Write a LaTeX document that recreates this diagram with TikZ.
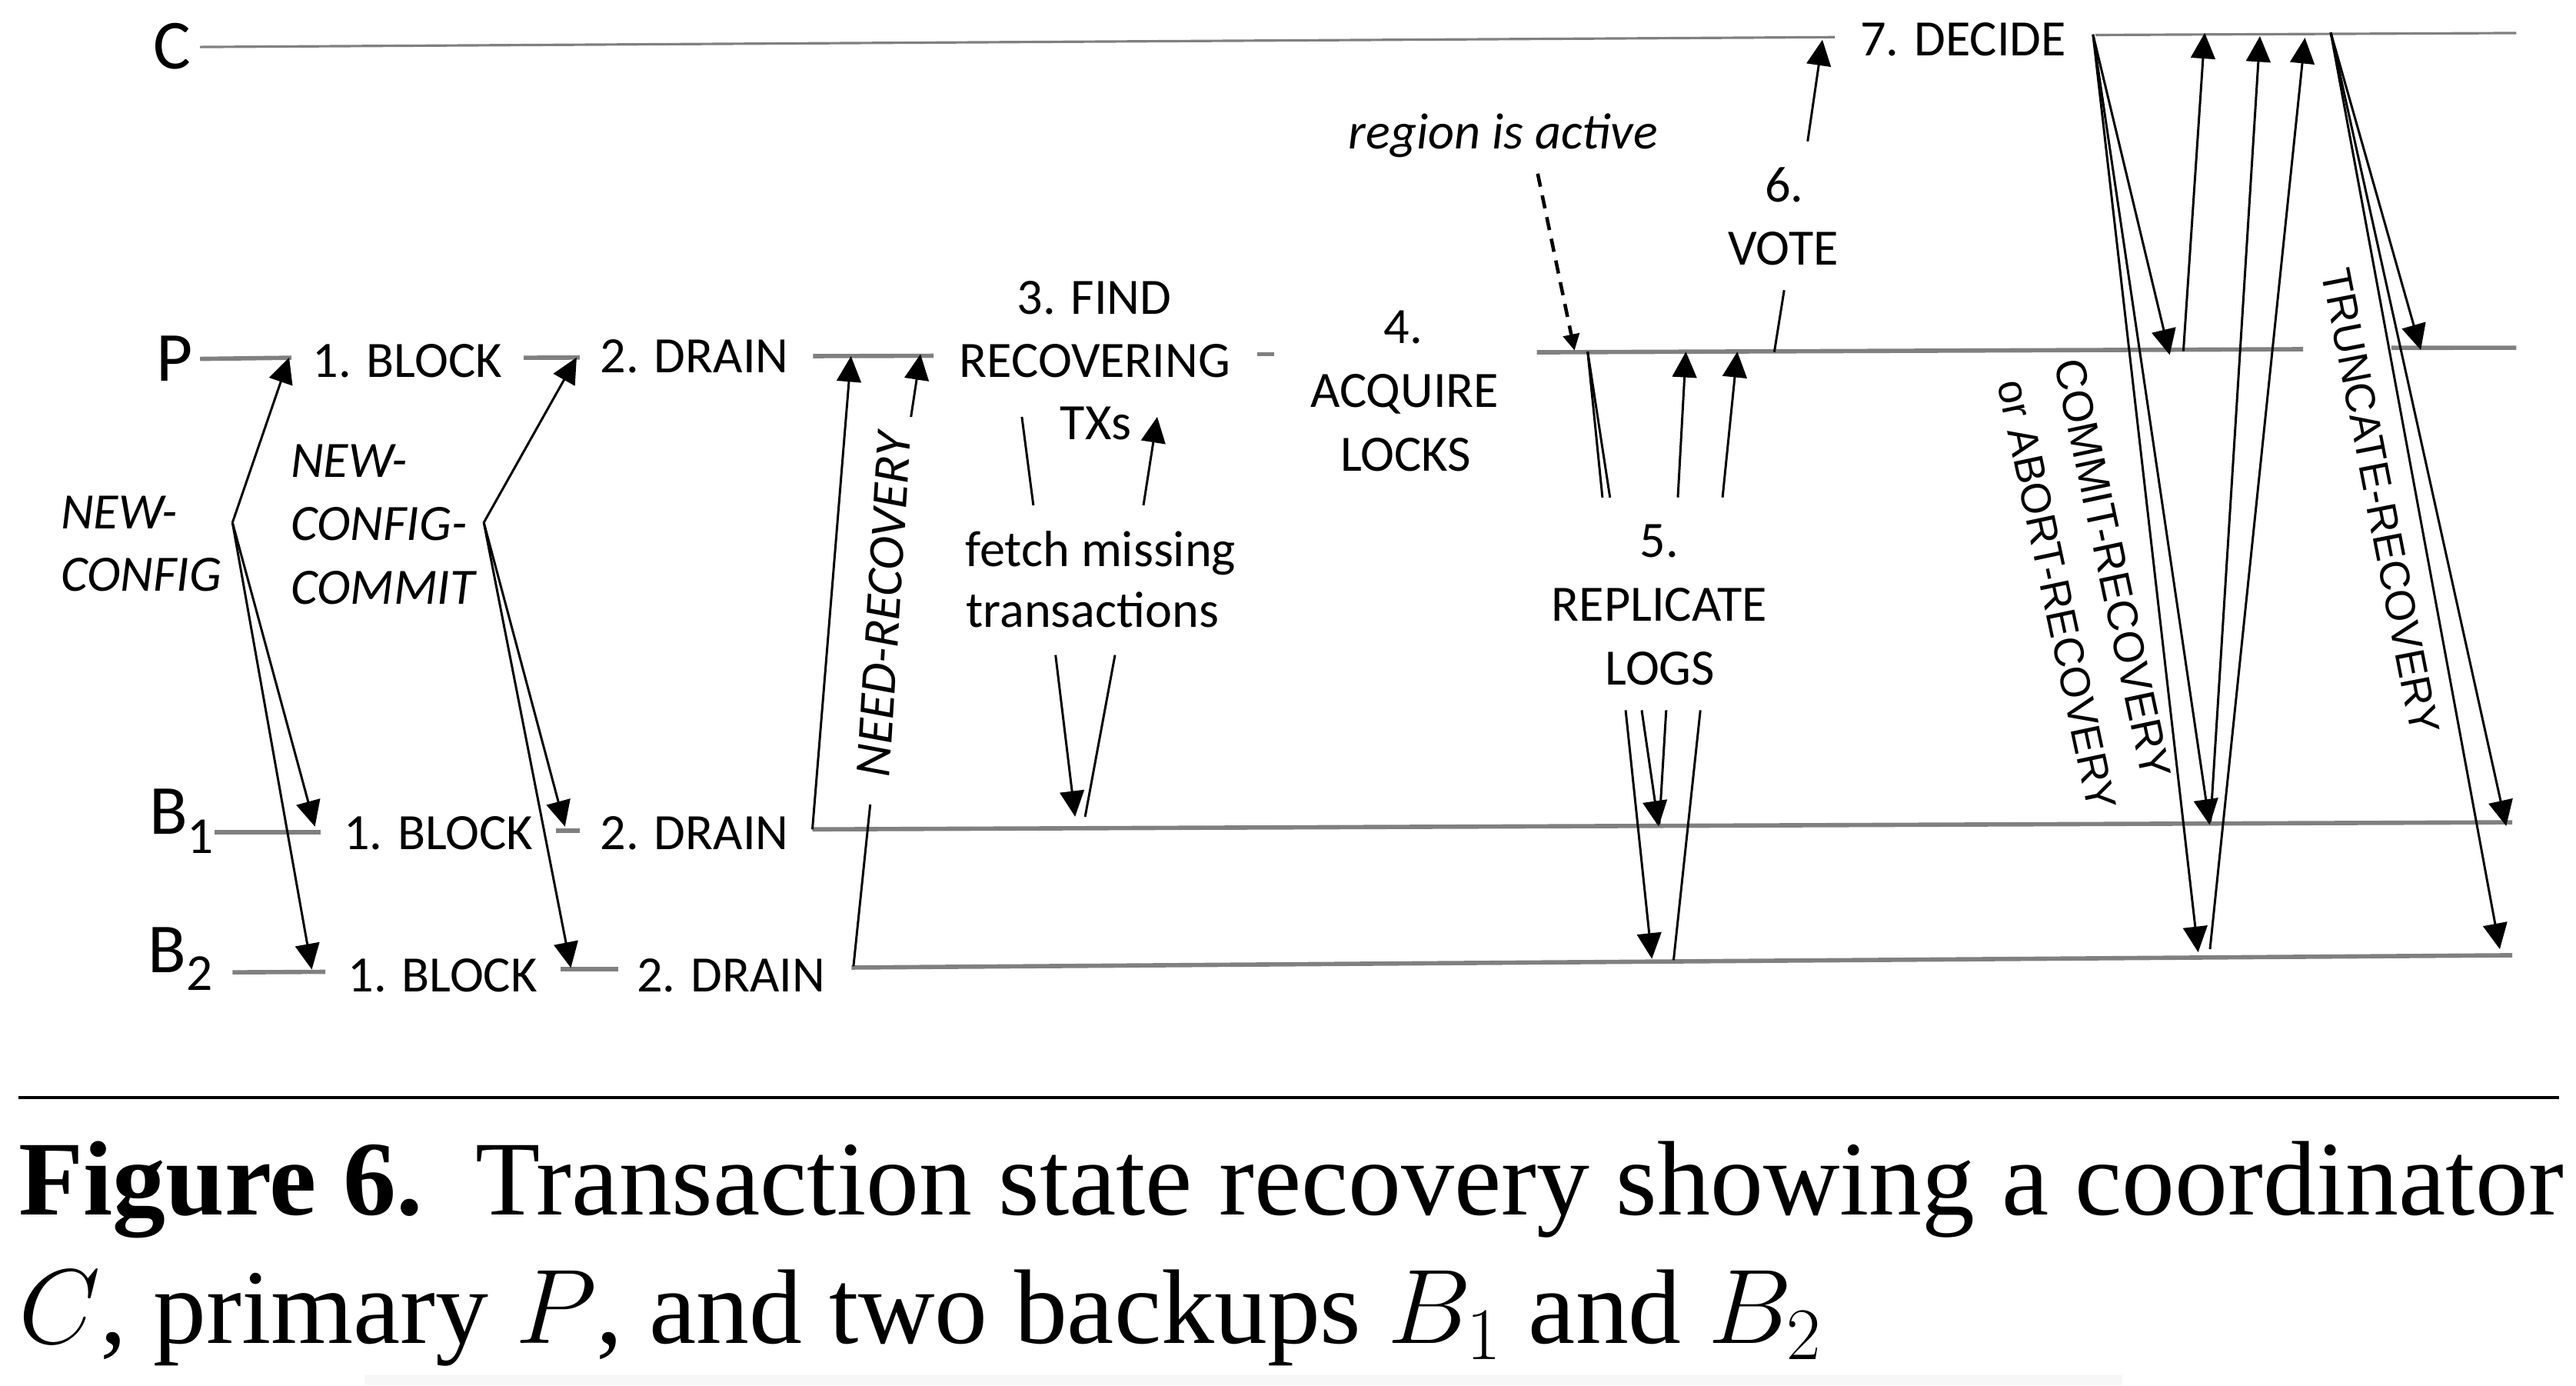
\RequirePackage{fix-cm}
\documentclass[tikz,border=0pt]{standalone}
\usepackage{fontspec}
\setmainfont{Carlito}
\newfontfamily\arialf{Liberation Sans}
\newfontfamily\timesf{Liberation Serif}
\usetikzlibrary{arrows.meta}
\definecolor{lifegray}{HTML}{808080}
\newcommand\labfont{\fontsize{18.85pt}{23pt}\selectfont}
\newcommand\lblbig{\fontsize{26pt}{31pt}\selectfont}
\newcommand\subfnt{\fontsize{19.2pt}{23pt}\selectfont}
\newcommand\rotfnt{\arialf\fontsize{15.5pt}{18pt}\selectfont}
\newcommand\rotfntb{\arialf\fontsize{15.9pt}{18pt}\selectfont}
\newcommand\capfnt{\timesf\fontsize{39.2pt}{47pt}\selectfont}
\tikzset{
  life/.style={draw=lifegray, line width=1.6pt},
  clife/.style={draw=lifegray, line width=0.9pt},
  msg/.style={draw=black, line width=0.85pt},
  msgA/.style={msg, -{Triangle[length=9.5pt,width=9pt]}},
  dsh/.style={draw=black, line width=1.3pt, dash pattern=on 4.9pt off 3.3pt, -{Triangle[length=6pt,width=6pt]}},
  txt/.style={inner sep=0pt, outer sep=0pt, anchor=base, font=\labfont},
  txtl/.style={inner sep=0pt, outer sep=0pt, anchor=base west, font=\labfont\itshape},
  big/.style={inner sep=0pt, outer sep=0pt, anchor=base, font=\lblbig},
  rot/.style={inner sep=0pt, outer sep=0pt, font=\rotfnt},
}
\begin{document}
\begin{tikzpicture}[x=0.21365mm,y=-0.21365mm]
\useasboundingbox (0,0) rectangle (1568,843);
% ---------- lifeline end points ----------
\coordinate (c0) at (121.8,28.6);  \coordinate (c1) at (1116.8,22.6);
\coordinate (c2) at (1275.5,21.3); \coordinate (c3) at (1531.7,20.1);
\coordinate (p0) at (121.8,218.4); \coordinate (p1) at (177.3,217.7);
\coordinate (p2) at (318.8,217.7); \coordinate (p3) at (352.8,217.6);
\coordinate (p4) at (494.9,216.7); \coordinate (p5) at (568.3,216.5);
\coordinate (p6) at (765.4,215.6); \coordinate (p7) at (775.4,215.6);
\coordinate (p8) at (935.5,214.4); \coordinate (p9) at (1401.9,212.5);
\coordinate (p10) at (1455.6,211.7); \coordinate (p11) at (1531.7,211.6);
\coordinate (b0) at (130.7,506.4); \coordinate (b1) at (195.2,506.4);
\coordinate (b2) at (338.5,505.5); \coordinate (b3) at (352.8,505.5);
\coordinate (b4) at (494.5,504.7); \coordinate (b5) at (1529.2,500.4);
\coordinate (d0) at (141.5,591.7); \coordinate (d1) at (198,591.4);
\coordinate (d2) at (341,589.8);   \coordinate (d3) at (376.1,589.8);
\coordinate (d4) at (518.3,588.8); \coordinate (d5) at (1529.2,581.3);
% ---------- lifelines ----------
\draw[clife] (c0) -- (c1);
\draw[clife] (c2) -- (c3);
\draw[life] (p0) -- (p1);
\draw[life] (p2) -- (p3);
\draw[life] (p4) -- (p5);
\draw[life] (p6) -- (p7);
\draw[life] (p8) -- (p9);
\draw[life] (p10) -- (p11);
\draw[life] (b0) -- (b1);
\draw[life] (b2) -- (b3);
\draw[life] (b4) -- (b5);
\draw[life] (d0) -- (d1);
\draw[life] (d2) -- (d3);
\draw[life] (d4) -- (d5);
% ---------- NEW-CONFIG ----------
\coordinate (nc) at (141.5,318);
\coordinate (ncP) at (176,217.5);
\coordinate (ncB1) at (191.7,503);
\coordinate (ncB2) at (189.8,590);
\draw[msgA] (nc) -- (ncP);
\draw[msgA] (nc) -- (ncB1);
\draw[msgA] (nc) -- (ncB2);
% ---------- NEW-CONFIG-COMMIT ----------
\coordinate (ncc) at (294.5,318);
\coordinate (nccP) at (351,217.5);
\coordinate (nccB1) at (343.9,503);
\coordinate (nccB2) at (347.5,589);
\draw[msgA] (ncc) -- (nccP);
\draw[msgA] (ncc) -- (nccB1);
\draw[msgA] (ncc) -- (nccB2);
% ---------- NEED-RECOVERY ----------
\coordinate (nr1t) at (518,216.7);
\draw[msgA] (b4) -- (nr1t);
\coordinate (nr2a) at (519.5,588);
\coordinate (nr2b) at (529.7,489.6);
\coordinate (nr2c) at (554.5,253.7);
\coordinate (nr2t) at (560.3,215.5);
\draw[msg] (nr2a) -- (nr2b);
\draw[msgA] (nr2c) -- (nr2t);
% ---------- fetch missing transactions ----------
\coordinate (f0) at (622,253.7);   \coordinate (f1) at (629,307.5);
\coordinate (f2) at (642.5,398.6); \coordinate (f3) at (654.4,497);
\draw[msg] (f0) -- (f1);
\draw[msgA] (f2) -- (f3);
\coordinate (g0) at (660.5,497);   \coordinate (g1) at (678.7,398.6);
\coordinate (g2) at (696,307.5);   \coordinate (g3) at (704.4,253.7);
\draw[msg] (g0) -- (g1);
\draw[msgA] (g2) -- (g3);
% ---------- region is active ----------
\coordinate (ra0) at (936,105.7);
\coordinate (ra1) at (958.4,213.3);
\draw[dsh] (ra0) -- (ra1);
% ---------- replicate logs ----------
\coordinate (s0) at (966.4,214);
\coordinate (sa1) at (975.4,302.8); \coordinate (sa2) at (989.5,432.2); \coordinate (sa3) at (1005.5,583.5);
\coordinate (sb1) at (980,302.8);   \coordinate (sb2) at (999.3,432.2); \coordinate (sb3) at (1009.6,503);
\draw[msg] (s0) -- (sa1);
\draw[msg] (s0) -- (sb1);
\draw[msgA] (sa2) -- (sa3);
\draw[msgA] (sb2) -- (sb3);
\coordinate (t0) at (1010,501.6);   \coordinate (t1) at (1014.2,432.2);
\coordinate (t2) at (1021.3,302.7); \coordinate (t3) at (1026.2,214);
\coordinate (u0) at (1018.7,584.3); \coordinate (u1) at (1035,432.2);
\coordinate (u2) at (1048.5,302.7); \coordinate (u3) at (1057.5,214);
\draw[msg] (t0) -- (t1);
\draw[msgA] (t2) -- (t3);
\draw[msg] (u0) -- (u1);
\draw[msgA] (u2) -- (u3);
% ---------- vote ----------
\coordinate (v0) at (1080,214.2);  \coordinate (v1) at (1086,176.6);
\coordinate (v2) at (1100.3,86);   \coordinate (v3) at (1109.3,24.2);
\draw[msg] (v0) -- (v1);
\draw[msgA] (v2) -- (v3);
% ---------- decide ----------
\coordinate (e0) at (1274,21);
\coordinate (eP) at (1320.7,216);
\coordinate (eB1) at (1345,502);
\coordinate (eB2) at (1338,579.5);
\draw[msgA] (e0) -- (eP);
\draw[msgA] (e0) -- (eB1);
\draw[msgA] (e0) -- (eB2);
\coordinate (wP) at (1329,213.7);   \coordinate (wPt) at (1342,20);
\coordinate (wB1) at (1345.5,500);  \coordinate (wB1t) at (1375.6,22);
\coordinate (wB2) at (1345.2,577.6); \coordinate (wB2t) at (1403,23);
\draw[msgA] (wP) -- (wPt);
\draw[msgA] (wB1) -- (wB1t);
\draw[msgA] (wB2) -- (wB2t);
% ---------- truncate ----------
\coordinate (k0) at (1418.7,19.8);
\coordinate (kP) at (1473.5,213);
\coordinate (kB1) at (1525.5,502.7);
\coordinate (kB2) at (1521.6,577.6);
\draw[msgA] (k0) -- (kP);
\draw[msgA] (k0) -- (kB1);
\draw[msgA] (k0) -- (kB2);
% ---------- process names ----------
\node[big] (lC) at (105,41.8) {C};
\node[big] (lP) at (106.5,231.9) {P};
\node[big] (lB1) at (110.5,507.6) {B\raisebox{-7pt}{\subfnt 1}};
\node[big] (lB2) at (109.8,592) {B\raisebox{-6.4pt}{\subfnt 2}};
% ---------- step labels ----------
\node[txt] (pblock) at (248,229.8) {1. BLOCK};
\node[txt] (pdrain) at (422.7,226.7) {2. DRAIN};
\node[txt] (b1block) at (266.9,516.9) {1. BLOCK};
\node[txt] (b1drain) at (422.7,516.9) {2. DRAIN};
\node[txt] (b2block) at (269.4,603.6) {1. BLOCK};
\node[txt] (b2drain) at (445,603.6) {2. DRAIN};
\node[txt] (find1) at (666,191.2) {3. FIND};
\node[txt] (find2) at (666.5,229.8) {RECOVERING};
\node[txt] (find3) at (667,267.5) {TXs};
\node[txt] (acq1) at (854,209) {4.};
\node[txt] (acq2) at (855,247.9) {ACQUIRE};
\node[txt] (acq3) at (855.7,286.7) {LOCKS};
\node[txt] (fm1) at (670,344.5) {fetch missing};
\node[txt] (fm2) at (665,381.7) {transactions};
\node[txt] (rep1) at (1010,339) {5.};
\node[txt] (rep2) at (1010,378) {REPLICATE};
\node[txt] (rep3) at (1010.5,417) {LOGS};
\node[txt] (vote1) at (1086,122.8) {6.};
\node[txt] (vote2) at (1085.4,161.3) {VOTE};
\node[txt] (decide) at (1195,34.1) {7. DECIDE};
\node[txt, font=\labfont\itshape] (active) at (915,90.5) {region is active};
\node[txtl] (nwc1) at (37,321.6) {NEW-};
\node[txtl] (nwc2) at (37,359.8) {CONFIG};
\node[txtl] (nwcc1) at (177,290.4) {NEW-};
\node[txtl] (nwcc2) at (177,328.9) {CONFIG-};
\node[txtl] (nwcc3) at (177,367.6) {COMMIT};
\node[inner sep=0pt, font=\labfont\itshape, rotate=86.5] (needrec) at (538,368) {NEED-RECOVERY};
\node[rot, font=\rotfntb, rotate=-78] (commitrec) at (1286,346) {COMMIT-RECOVERY};
\node[rot, rotate=-78] (abortrec) at (1252,362) {or ABORT-RECOVERY};
\node[rot, rotate=-79] (truncrec) at (1449,305) {TRUNCATE-RECOVERY};
% ---------- caption ----------
\coordinate (rl) at (11.2,668);
\coordinate (rr) at (1557.5,668);
\draw[line width=1.2pt] (rl) -- (rr);
\node[inner sep=0pt, anchor=base west, font=\capfnt] (cap1) at (11,739.5)
  {\textbf{Figure 6.}\ \ Transaction state recovery showing a coordinator};
\node[inner sep=0pt, anchor=base west, font=\capfnt] (cap2) at (11,817.6)
  {$C$, primary $P$, and two backups $B_1$ and $B_2$};
\fill[black!3] (222,837) rectangle (1292,843);
\end{tikzpicture}
\end{document}
